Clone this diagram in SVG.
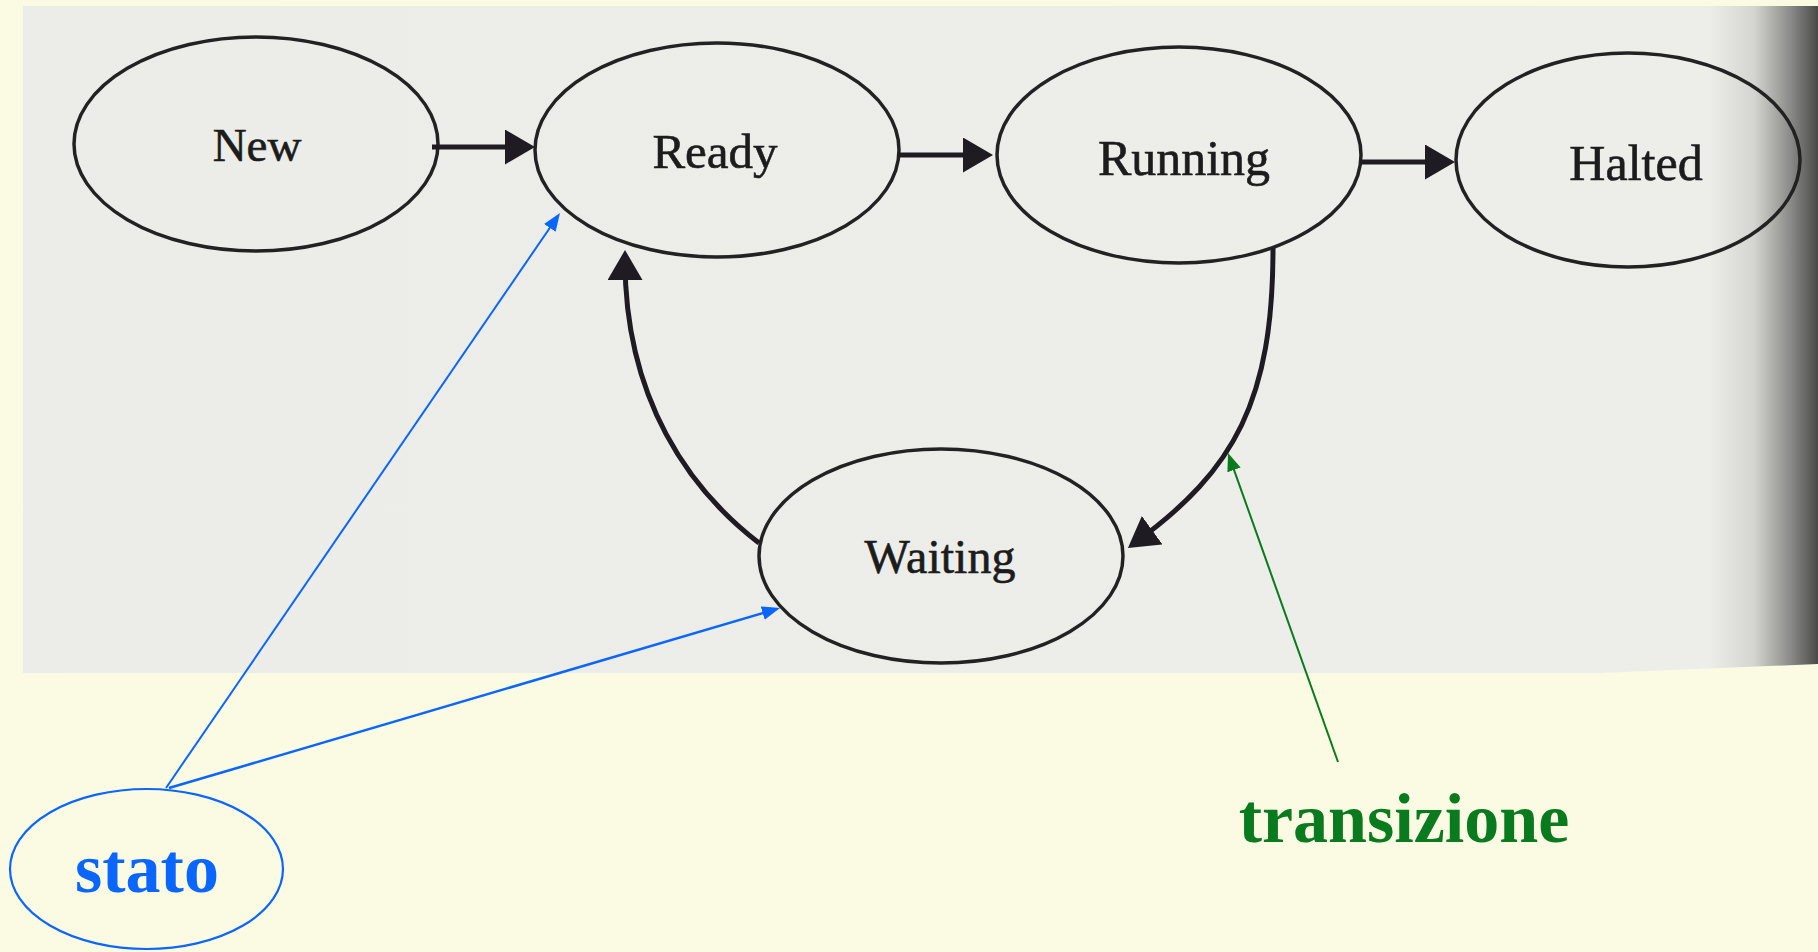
<svg xmlns="http://www.w3.org/2000/svg" width="1818" height="952" viewBox="0 0 1818 952">
  <defs>
    <linearGradient id="paper" x1="0" y1="0" x2="1818" y2="0" gradientUnits="userSpaceOnUse">
      <stop offset="0" stop-color="#ECECE8"/>
      <stop offset="0.94" stop-color="#EDEDE9"/>
      <stop offset="0.965" stop-color="#D4D4D0"/>
      <stop offset="0.985" stop-color="#8A8A88"/>
      <stop offset="1" stop-color="#4A4A4A"/>
    </linearGradient>
    <marker id="ah" markerUnits="userSpaceOnUse" markerWidth="32" markerHeight="36" refX="20" refY="17.5" orient="auto" viewBox="0 0 32 36">
      <path d="M0,0 L30,17.5 L0,35 z" fill="#1e1c22"/>
    </marker>
    <marker id="ahBlue" markerUnits="userSpaceOnUse" markerWidth="20" markerHeight="16" refX="15" refY="7" orient="auto" viewBox="0 0 20 16">
      <path d="M0,0 L18,7 L0,14 z" fill="#0A66FF"/>
    </marker>
    <marker id="ahGreen" markerUnits="userSpaceOnUse" markerWidth="20" markerHeight="16" refX="15" refY="7" orient="auto" viewBox="0 0 20 16">
      <path d="M0,0 L18,7 L0,14 z" fill="#0A7A1E"/>
    </marker>
  </defs>
  <style>
    .state { fill: none; stroke: #222222; stroke-width: 3.5; }
    .lbl { font-family: "Liberation Serif", "Times New Roman", serif; fill: #1c1c1c; stroke: #1c1c1c; stroke-width: 0.6; text-anchor: middle; }
    .edge { fill: none; stroke: #1e1c22; stroke-width: 5; marker-end: url(#ah); }
    .blue { fill: none; stroke: #0A66FF; marker-end: url(#ahBlue); }
    .green { fill: none; stroke: #0A7A1E; stroke-width: 2; marker-end: url(#ahGreen); }
    .note { font-family: "Liberation Serif", "Times New Roman", serif; font-weight: bold; font-size: 70px; text-anchor: middle; }
  </style>

  <rect x="0" y="0" width="1818" height="952" fill="#FBFBE3"/>
  <path d="M23,6 L1818,6 L1818,664 L1600,673 L23,673 Z" fill="url(#paper)"/>

  <g id="new">
    <ellipse class="state" cx="256" cy="144" rx="182" ry="107"/>
    <text class="lbl" x="257" y="161" font-size="47">New</text>
  </g>
  <g id="ready">
    <ellipse class="state" cx="717" cy="150" rx="182" ry="107"/>
    <text class="lbl" x="715" y="168" font-size="49">Ready</text>
  </g>
  <g id="running">
    <ellipse class="state" cx="1179" cy="155" rx="182" ry="108"/>
    <text class="lbl" x="1184" y="175" font-size="50">Running</text>
  </g>
  <g id="halted">
    <ellipse class="state" cx="1628" cy="160" rx="172" ry="107"/>
    <text class="lbl" x="1636" y="180" font-size="50">Halted</text>
  </g>
  <g id="waiting">
    <ellipse class="state" cx="941" cy="556" rx="182" ry="107"/>
    <text class="lbl" x="940" y="573" font-size="48">Waiting</text>
  </g>

  <g id="stato">
    <ellipse cx="146.5" cy="869" rx="136.5" ry="80" fill="none" stroke="#0A66FF" stroke-width="2.2"/>
    <text class="note" x="147" y="892" fill="#0A66FF">stato</text>
  </g>
  <g id="transizione">
    <text class="note" x="1404" y="842" fill="#0A7A1E">transizione</text>
  </g>

  <g id="connectors">
    <line class="edge" x1="432" y1="147" x2="525" y2="147"/>
    <line class="edge" x1="898" y1="155" x2="983" y2="155"/>
    <line class="edge" x1="1360" y1="162" x2="1445" y2="162"/>
    <path class="edge" d="M759,543 C690,490 625,400 625,260"/>
    <path class="edge" d="M1273,248 C1273,400 1235,470 1136,542"/>
    <line class="blue" stroke-width="2" x1="166" y1="788" x2="558.3" y2="215.5"/>
    <line class="blue" stroke-width="2.5" x1="169" y1="788" x2="777.1" y2="608.9"/>
    <line class="green" x1="1338" y1="762" x2="1229" y2="455.8"/>
  </g>
</svg>
